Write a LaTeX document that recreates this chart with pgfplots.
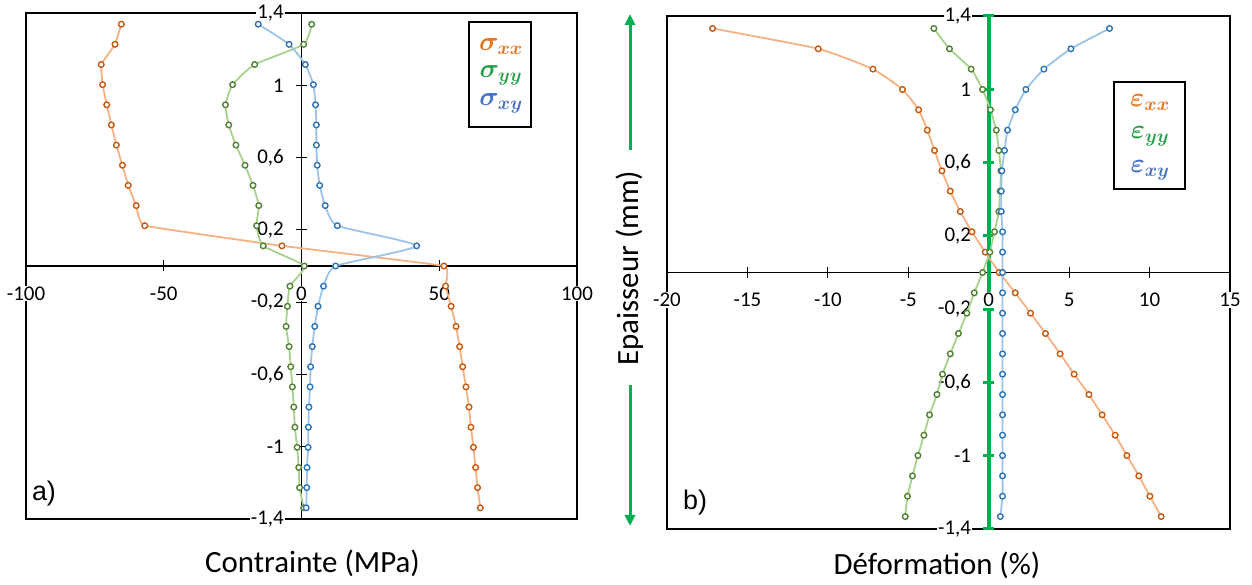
\RequirePackage{fix-cm}
\documentclass[border=0pt]{standalone}
\usepackage{amsmath}
\usepackage{fontspec}
\setmainfont{Carlito}
\newfontfamily\arialfont{Liberation Sans}
\usepackage{pgfplots}
\pgfplotsset{compat=1.18}
\usetikzlibrary{arrows.meta}

\definecolor{oline}{RGB}{244,177,131}
\definecolor{omark}{RGB}{197,90,17}
\definecolor{gline}{RGB}{169,209,142}
\definecolor{gmark}{RGB}{84,130,53}
\definecolor{bline}{RGB}{157,195,230}
\definecolor{bmark}{RGB}{46,117,182}
\definecolor{otext}{RGB}{232,115,30}
\definecolor{gtext}{RGB}{40,160,75}
\definecolor{btext}{RGB}{68,114,196}
\definecolor{axgreen}{RGB}{0,176,80}

\pgfplotsset{
  panel/.style={
    scale only axis,
    set layers,
    axis lines=middle,
    axis line style={-, black, line width=1.3bp},
    axis background/.style={draw=black, line width=1.3bp},
    tick align=center,
    major tick length=11bp,
    xtick style={black, line width=1.2bp},
    ytick style={black, line width=1.2bp},
    hide obscured x ticks=false,
    hide obscured y ticks=false,
    clip=false,
    ymin=-1.4, ymax=1.4,
    ytick={-1.4,-1,-0.6,-0.2,0.2,0.6,1,1.4},
    tick label style={font=\fontsize{21}{25}\selectfont, fill=white, inner sep=1bp},
    xticklabel style={anchor=north, yshift=-14bp},
    yticklabel style={anchor=east, xshift=-11bp},
    /pgf/number format/use comma,
    /pgf/number format/assume math mode=true,
  },
  ser/.style={smooth, tension=0.3, draw=#1line, line width=1.8bp,
    mark=*, mark size=2.8bp,
    mark options={draw=#1mark, fill=white, line width=1.4bp, solid}},
}

\pgfplotstableread{
x y
-65.4 1.338
-67.7 1.2265
-72.7 1.115
-72.2 1.0035
-70.7 0.892
-69.0 0.7805
-67.2 0.669
-65.0 0.5575
-62.9 0.446
-60.0 0.3345
-56.9 0.223
-7.1 0.1115
51.7 0
52.3 -0.1115
54.3 -0.223
56.1 -0.3345
57.4 -0.446
58.5 -0.5575
59.7 -0.669
60.8 -0.7805
61.5 -0.892
62.4 -1.0035
63.2 -1.115
63.9 -1.2265
64.9 -1.338
}\sxx
\pgfplotstableread{
x y
3.7 1.338
0.8 1.2265
-17.0 1.115
-25.0 1.0035
-27.6 0.892
-26.4 0.7805
-23.8 0.669
-20.5 0.5575
-17.6 0.446
-15.5 0.3345
-16.3 0.223
-13.9 0.1115
1.0 0
-4.2 -0.1115
-5.1 -0.223
-5.6 -0.3345
-4.5 -0.446
-3.9 -0.5575
-3.3 -0.669
-2.8 -0.7805
-2.4 -0.892
-1.6 -1.0035
-1.0 -1.115
-0.7 -1.2265
0.8 -1.338
}\syy
\pgfplotstableread{
x y
-15.7 1.338
-4.5 1.2265
1.4 1.115
4.3 1.0035
5.1 0.892
5.4 0.7805
5.4 0.669
5.7 0.5575
6.6 0.446
8.6 0.3345
13.0 0.223
41.8 0.1115
12.4 0
8.0 -0.1115
6.0 -0.223
4.8 -0.3345
3.9 -0.446
3.3 -0.5575
3.1 -0.669
2.7 -0.7805
2.5 -0.892
2.4 -1.0035
2.0 -1.115
1.9 -1.2265
1.7 -1.338
}\sxy
\pgfplotstableread{
x y
-17.17 1.332
-10.6 1.221
-7.2 1.11
-5.36 0.999
-4.36 0.888
-3.82 0.777
-3.37 0.666
-2.91 0.555
-2.39 0.444
-1.77 0.333
-1.04 0.222
-0.22 0.111
0.65 0
1.65 -0.111
2.6 -0.222
3.53 -0.333
4.44 -0.444
5.31 -0.555
6.23 -0.666
7.05 -0.777
7.86 -0.888
8.59 -0.999
9.33 -1.11
10.02 -1.221
10.72 -1.332
}\exx
\pgfplotstableread{
x y
-3.41 1.332
-2.44 1.221
-1.09 1.11
-0.38 0.999
0.11 0.888
0.47 0.777
0.63 0.666
0.76 0.555
0.71 0.444
0.63 0.333
0.36 0.222
0.07 0.111
-0.38 0
-0.9 -0.111
-1.36 -0.222
-1.88 -0.333
-2.39 -0.444
-2.87 -0.555
-3.22 -0.666
-3.68 -0.777
-4.03 -0.888
-4.4 -0.999
-4.74 -1.11
-5.05 -1.221
-5.19 -1.332
}\eyy
\pgfplotstableread{
x y
7.51 1.332
5.11 1.221
3.43 1.11
2.31 0.999
1.65 0.888
1.17 0.777
0.98 0.666
0.82 0.555
0.78 0.444
0.78 0.333
0.86 0.222
0.86 0.111
0.86 0
0.86 -0.111
0.86 -0.222
0.86 -0.333
0.86 -0.444
0.86 -0.555
0.86 -0.666
0.86 -0.777
0.86 -0.888
0.86 -0.999
0.86 -1.11
0.86 -1.221
0.72 -1.332
}\exy

\begin{document}
\begin{tikzpicture}
\path (0,0) rectangle (1252bp,585bp);

\begin{axis}[panel,
  at={(26bp,66bp)}, anchor=south west,
  width=551bp, height=506bp,
  xmin=-100, xmax=100, xtick={-100,-50,0,50,100}]
  \addplot[ser=o, tension=0.15] table {\sxx};
  \addplot[ser=g] table {\syy};
  \addplot[ser=b] table {\sxy};
\end{axis}

\begin{axis}[panel,
  at={(667bp,56bp)}, anchor=south west,
  width=563bp, height=513bp,
  xmin=-20, xmax=15, xtick={-20,-15,-10,-5,0,5,10,15},
  y axis line style={-, axgreen, line width=4bp},
  ytick style={axgreen, line width=3bp}]
  \addplot[ser=o] table {\exx};
  \addplot[ser=g] table {\eyy};
  \addplot[ser=b] table {\exy};
\end{axis}

% legends
\node[draw=black, line width=1.2bp, minimum width=62bp, minimum height=105bp,
  inner sep=0pt] at (500bp,510.5bp) {};
\node[draw=black, line width=1.2bp, minimum width=71bp, minimum height=107bp,
  inner sep=0pt] at (1149.5bp,449.5bp) {};
\begin{scope}[every node/.style={font=\fontsize{27}{32}\selectfont, inner sep=0pt}]
\node[text=otext] at (501bp,538bp) {$\boldsymbol{\sigma_{xx}}$};
\node[text=gtext] at (501bp,510bp) {$\boldsymbol{\sigma_{yy}}$};
\node[text=btext] at (501bp,482bp) {$\boldsymbol{\sigma_{xy}}$};
\node[text=otext] at (1150bp,482bp) {$\boldsymbol{\varepsilon_{xx}}$};
\node[text=gtext] at (1150bp,449bp) {$\boldsymbol{\varepsilon_{yy}}$};
\node[text=btext] at (1150bp,415bp) {$\boldsymbol{\varepsilon_{xy}}$};
\end{scope}

% titles
\node[font=\fontsize{31}{36}\selectfont] at (312.5bp,22bp) {Contrainte (MPa)};
\node[font=\fontsize{31}{36}\selectfont] at (937bp,20bp) {Déformation (\%)};
\node[font=\fontsize{31}{36}\selectfont, rotate=90] at (630bp,317bp) {Epaisseur (mm)};
\draw[axgreen, line width=3bp, -{Triangle[length=11bp,width=10bp]}] (630bp,435bp) -- (630bp,571bp);
\draw[axgreen, line width=3bp, -{Triangle[length=11bp,width=10bp]}] (630bp,200bp) -- (630bp,59bp);
\node[font=\arialfont\fontsize{27}{31}\selectfont] at (44bp,91bp) {a)};
\node[font=\arialfont\fontsize{27}{31}\selectfont] at (695bp,82bp) {b)};
\pgfresetboundingbox
\path (0,0) rectangle (1252bp,585bp);
\end{tikzpicture}
\end{document}
